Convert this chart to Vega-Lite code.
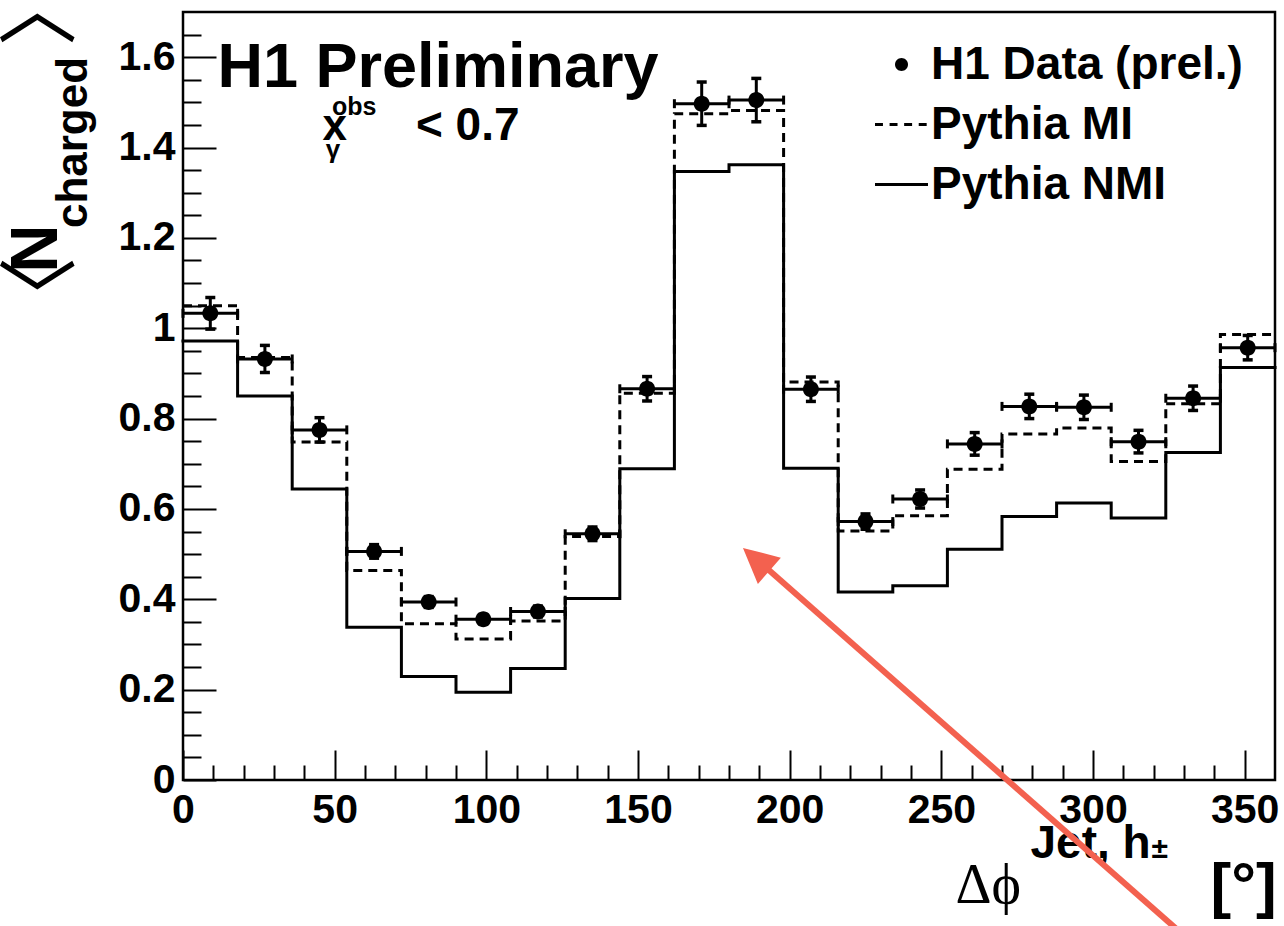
{
  "$schema": "https://vega.github.io/schema/vega-lite/v6.json",
  "width": 1092,
  "height": 768,
  "autosize": {"type": "none"},
  "padding": {"left": 183, "top": 12, "right": 9, "bottom": 146},
  "background": "white",
  "config": {
    "view": {"stroke": "black", "strokeWidth": 2.5},
    "font": "Liberation Sans",
    "axis": {
      "domain": false, "grid": false,
      "labelFont": "Liberation Sans", "labelFontWeight": "bold", "labelFontSize": 41, "labelColor": "black",
      "tickColor": "black", "tickWidth": 2, "labelFlush": false, "labelOverlap": false,
      "titleColor": "black", "titleFont": "Liberation Sans", "titleFontWeight": "bold"
    }
  },
  "data": {"values": [
    {"lo": 0, "hi": 18, "mid": 9, "data": 1.033, "ylo": 0.998, "yhi": 1.068, "mi": 1.050, "nmi": 0.972},
    {"lo": 18, "hi": 36, "mid": 27, "data": 0.932, "ylo": 0.902, "yhi": 0.962, "mi": 0.935, "nmi": 0.850},
    {"lo": 36, "hi": 54, "mid": 45, "data": 0.775, "ylo": 0.748, "yhi": 0.802, "mi": 0.748, "nmi": 0.644},
    {"lo": 54, "hi": 72, "mid": 63, "data": 0.506, "ylo": 0.491, "yhi": 0.521, "mi": 0.464, "nmi": 0.338},
    {"lo": 72, "hi": 90, "mid": 81, "data": 0.394, "ylo": 0.382, "yhi": 0.406, "mi": 0.346, "nmi": 0.229},
    {"lo": 90, "hi": 108, "mid": 99, "data": 0.356, "ylo": 0.346, "yhi": 0.366, "mi": 0.312, "nmi": 0.194},
    {"lo": 108, "hi": 126, "mid": 117, "data": 0.373, "ylo": 0.361, "yhi": 0.385, "mi": 0.352, "nmi": 0.247},
    {"lo": 126, "hi": 144, "mid": 135, "data": 0.545, "ylo": 0.530, "yhi": 0.560, "mi": 0.539, "nmi": 0.402},
    {"lo": 144, "hi": 162, "mid": 153, "data": 0.866, "ylo": 0.839, "yhi": 0.893, "mi": 0.856, "nmi": 0.689},
    {"lo": 162, "hi": 180, "mid": 171, "data": 1.497, "ylo": 1.449, "yhi": 1.545, "mi": 1.475, "nmi": 1.347},
    {"lo": 180, "hi": 198, "mid": 189, "data": 1.505, "ylo": 1.457, "yhi": 1.553, "mi": 1.482, "nmi": 1.362},
    {"lo": 198, "hi": 216, "mid": 207, "data": 0.865, "ylo": 0.838, "yhi": 0.892, "mi": 0.881, "nmi": 0.690},
    {"lo": 216, "hi": 234, "mid": 225, "data": 0.572, "ylo": 0.555, "yhi": 0.589, "mi": 0.551, "nmi": 0.416},
    {"lo": 234, "hi": 252, "mid": 243, "data": 0.622, "ylo": 0.602, "yhi": 0.642, "mi": 0.585, "nmi": 0.430},
    {"lo": 252, "hi": 270, "mid": 261, "data": 0.744, "ylo": 0.719, "yhi": 0.769, "mi": 0.688, "nmi": 0.511},
    {"lo": 270, "hi": 288, "mid": 279, "data": 0.827, "ylo": 0.800, "yhi": 0.854, "mi": 0.766, "nmi": 0.583},
    {"lo": 288, "hi": 306, "mid": 297, "data": 0.825, "ylo": 0.798, "yhi": 0.852, "mi": 0.779, "nmi": 0.613},
    {"lo": 306, "hi": 324, "mid": 315, "data": 0.749, "ylo": 0.724, "yhi": 0.774, "mi": 0.705, "nmi": 0.580},
    {"lo": 324, "hi": 342, "mid": 333, "data": 0.845, "ylo": 0.818, "yhi": 0.872, "mi": 0.833, "nmi": 0.725},
    {"lo": 342, "hi": 360, "mid": 351, "data": 0.957, "ylo": 0.930, "yhi": 0.984, "mi": 0.986, "nmi": 0.913}
  ]},
  "resolve": {"axis": {"x": "independent", "y": "independent"}},
  "layer": [
    {
      "transform": [{"fold": ["lo", "hi"], "as": ["edge", "xe"]}],
      "mark": {"type": "line", "color": "black", "strokeWidth": 3, "strokeJoin": "miter", "strokeCap": "square"},
      "encoding": {
        "x": {"field": "xe", "type": "quantitative", "scale": {"domain": [0, 360], "nice": false, "zero": false},
          "axis": {"orient": "bottom", "values": [0, 50, 100, 150, 200, 250, 300, 350], "format": "d", "ticks": false, "labelPadding": 10,
            "title": "Δϕ", "titleFont": "Liberation Serif", "titleFontWeight": "normal", "titleFontSize": 56,
            "titleX": 772, "titleY": 122, "titleAlign": "left", "titleBaseline": "alphabetic", "titleAngle": 0}},
        "y": {"field": "nmi", "type": "quantitative", "scale": {"domain": [0, 1.7], "nice": false},
          "axis": {"orient": "left", "values": [0, 0.2, 0.4, 0.6, 0.8, 1, 1.2, 1.4, 1.6], "format": "~g", "ticks": false, "labelPadding": 8,
            "title": "N", "titleFontSize": 67, "titleX": -147, "titleY": 236, "titleAlign": "center", "titleBaseline": "middle", "titleAngle": 270}},
        "order": [{"field": "xe", "type": "quantitative"}, {"field": "edge", "type": "nominal"}]
      }
    },
    {
      "transform": [{"fold": ["lo", "hi"], "as": ["edge", "xe"]}],
      "mark": {"type": "line", "color": "black", "strokeWidth": 3, "strokeJoin": "miter", "strokeCap": "butt", "strokeDash": [9, 6]},
      "encoding": {
        "x": {"field": "xe", "type": "quantitative", "scale": {"domain": [0, 360], "nice": false, "zero": false},
          "axis": {"orient": "bottom", "values": [0, 50, 100, 150, 200, 250, 300, 350], "labels": false, "tickSize": -30,
            "title": "Jet, h", "titleFontSize": 46, "titleX": 847, "titleY": 77, "titleAlign": "left", "titleBaseline": "alphabetic", "titleAngle": 0}},
        "y": {"field": "mi", "type": "quantitative", "scale": {"domain": [0, 1.7], "nice": false},
          "axis": {"orient": "left", "values": [0, 0.2, 0.4, 0.6, 0.8, 1, 1.2, 1.4, 1.6], "labels": false, "tickSize": -33,
            "title": "charged", "titleFontSize": 44, "titleX": -110, "titleY": 130, "titleAlign": "center", "titleBaseline": "middle", "titleAngle": 270}},
        "order": [{"field": "xe", "type": "quantitative"}, {"field": "edge", "type": "nominal"}]
      }
    },
    {
      "mark": {"type": "rule", "color": "black", "strokeWidth": 3},
      "encoding": {
        "x": {"field": "lo", "type": "quantitative", "scale": {"domain": [0, 360], "nice": false, "zero": false},
          "axis": {"orient": "bottom", "values": [10, 20, 30, 40, 60, 70, 80, 90, 110, 120, 130, 140, 160, 170, 180, 190, 210, 220, 230, 240, 260, 270, 280, 290, 310, 320, 330, 340], "labels": false, "tickSize": -15,
            "title": "[°]", "titleFontSize": 62, "titleX": 1027, "titleY": 125, "titleAlign": "left", "titleBaseline": "alphabetic", "titleAngle": 0}},
        "x2": {"field": "hi"},
        "y": {"field": "data", "type": "quantitative", "scale": {"domain": [0, 1.7], "nice": false},
          "axis": {"orient": "left", "values": [0.05, 0.1, 0.15, 0.25, 0.3, 0.35, 0.45, 0.5, 0.55, 0.65, 0.7, 0.75, 0.85, 0.9, 0.95, 1.05, 1.1, 1.15, 1.25, 1.3, 1.35, 1.45, 1.5, 1.55, 1.65], "labels": false, "tickSize": -18,
            "title": "〈", "titleFont": "Noto Sans CJK SC", "titleFontWeight": "normal", "titleFontSize": 80, "titleX": -141, "titleY": 284, "titleAlign": "center", "titleBaseline": "middle", "titleAngle": 270}}
      }
    },
    {
      "mark": {"type": "rule", "color": "black", "strokeWidth": 3},
      "encoding": {
        "x": {"field": "mid", "type": "quantitative", "scale": {"domain": [0, 360], "nice": false, "zero": false},
          "axis": {"orient": "bottom", "values": [0], "labels": false, "ticks": false,
            "title": "±", "titleFontSize": 30, "titleX": 968, "titleY": 77, "titleAlign": "left", "titleBaseline": "alphabetic", "titleAngle": 0}},
        "y": {"field": "ylo", "type": "quantitative", "scale": {"domain": [0, 1.7], "nice": false},
          "axis": {"orient": "left", "values": [0], "labels": false, "ticks": false,
            "title": "〉", "titleFont": "Noto Sans CJK SC", "titleFontWeight": "normal", "titleFontSize": 80, "titleX": -141, "titleY": -6, "titleAlign": "center", "titleBaseline": "middle", "titleAngle": 270}},
        "y2": {"field": "yhi"}
      }
    },
    {
      "transform": [{"fold": ["ylo", "yhi"], "as": ["bnd", "yb"]}],
      "mark": {"type": "tick", "color": "black", "opacity": 1, "orient": "horizontal", "size": 10, "thickness": 3.5},
      "encoding": {
        "x": {"field": "mid", "type": "quantitative", "scale": {"domain": [0, 360], "nice": false, "zero": false}, "axis": null},
        "y": {"field": "yb", "type": "quantitative", "scale": {"domain": [0, 1.7], "nice": false}, "axis": null}
      }
    },
    {
      "transform": [{"fold": ["lo", "hi"], "as": ["edge", "xe"]}],
      "mark": {"type": "tick", "color": "black", "opacity": 1, "orient": "vertical", "size": 9, "thickness": 3},
      "encoding": {
        "x": {"field": "xe", "type": "quantitative", "scale": {"domain": [0, 360], "nice": false, "zero": false}, "axis": null},
        "y": {"field": "data", "type": "quantitative", "scale": {"domain": [0, 1.7], "nice": false}, "axis": null}
      }
    },
    {
      "mark": {"type": "point", "filled": true, "color": "black", "size": 4265, "opacity": 1},
      "encoding": {
        "x": {"field": "mid", "type": "quantitative", "scale": {"domain": [0, 360], "nice": false, "zero": false}, "axis": null},
        "y": {"field": "data", "type": "quantitative", "scale": {"domain": [0, 1.7], "nice": false}, "axis": null},
        "shape": {"datum": "H1 Data (prel.)", "type": "nominal",
          "scale": {"domain": ["H1 Data (prel.)", "Pythia MI", "Pythia NMI"],
            "range": [
              "M-0.245,0A0.245,0.245,0,1,0,0.245,0A0.245,0.245,0,1,0,-0.245,0Z",
              "M-1,-0.06H-0.7V0.06H-1ZM-0.45,-0.06H-0.15V0.06H-0.45ZM0.1,-0.06H0.4V0.06H0.1ZM0.65,-0.06H0.95V0.06H0.65Z",
              "M-1,-0.06H1V0.06H-1Z"]},
          "legend": {"orient": "none", "legendX": 692, "legendY": 26, "title": null, "padding": 0,
            "symbolSize": 2809, "symbolStrokeWidth": 0, "symbolFillColor": "black", "symbolOpacity": 1,
            "labelFont": "Liberation Sans", "labelFontWeight": "bold", "labelFontSize": 46, "labelColor": "black",
            "labelLimit": 600, "labelOffset": 3, "rowPadding": 10}}
      }
    },
    {
      "data": {"values": [{"t": "H1 Preliminary"}]},
      "mark": {"type": "text", "align": "left", "baseline": "alphabetic", "font": "Liberation Sans", "fontWeight": "bold", "fontSize": 63, "color": "black"},
      "encoding": {
        "x": {"datum": 11.34, "type": "quantitative", "scale": {"domain": [0, 360], "nice": false, "zero": false}, "axis": null},
        "y": {"datum": 1.535, "type": "quantitative", "scale": {"domain": [0, 1.7], "nice": false}, "axis": null},
        "text": {"field": "t"}
      }
    },
    {
      "data": {"values": [{"t": "x"}]},
      "mark": {"type": "text", "align": "left", "baseline": "alphabetic", "font": "Liberation Sans", "fontWeight": "bold", "fontSize": 44, "color": "black"},
      "encoding": {
        "x": {"datum": 46.0, "type": "quantitative", "scale": {"domain": [0, 360], "nice": false, "zero": false}, "axis": null},
        "y": {"datum": 1.4175, "type": "quantitative", "scale": {"domain": [0, 1.7], "nice": false}, "axis": null},
        "text": {"field": "t"}
      }
    },
    {
      "data": {"values": [{"t": "γ"}]},
      "mark": {"type": "text", "align": "left", "baseline": "alphabetic", "font": "Liberation Sans", "fontWeight": "bold", "fontSize": 26, "color": "black"},
      "encoding": {
        "x": {"datum": 47.1, "type": "quantitative", "scale": {"domain": [0, 360], "nice": false, "zero": false}, "axis": null},
        "y": {"datum": 1.3776, "type": "quantitative", "scale": {"domain": [0, 1.7], "nice": false}, "axis": null},
        "text": {"field": "t"}
      }
    },
    {
      "data": {"values": [{"t": "obs"}]},
      "mark": {"type": "text", "align": "left", "baseline": "alphabetic", "font": "Liberation Sans", "fontWeight": "bold", "fontSize": 25, "color": "black"},
      "encoding": {
        "x": {"datum": 49.1, "type": "quantitative", "scale": {"domain": [0, 360], "nice": false, "zero": false}, "axis": null},
        "y": {"datum": 1.4729, "type": "quantitative", "scale": {"domain": [0, 1.7], "nice": false}, "axis": null},
        "text": {"field": "t"}
      }
    },
    {
      "data": {"values": [{"t": "< 0.7"}]},
      "mark": {"type": "text", "align": "left", "baseline": "alphabetic", "font": "Liberation Sans", "fontWeight": "bold", "fontSize": 46, "color": "black"},
      "encoding": {
        "x": {"datum": 76.8, "type": "quantitative", "scale": {"domain": [0, 360], "nice": false, "zero": false}, "axis": null},
        "y": {"datum": 1.4175, "type": "quantitative", "scale": {"domain": [0, 1.7], "nice": false}, "axis": null},
        "text": {"field": "t"}
      }
    },
    {
      "data": {"values": [{"note": "arrow"}]},
      "mark": {"type": "rule", "color": "#f3614f", "strokeWidth": 6, "strokeCap": "butt"},
      "encoding": {
        "x": {"datum": 191.9, "type": "quantitative", "scale": {"domain": [0, 360], "nice": false, "zero": false}, "axis": null},
        "y": {"datum": 0.4718, "type": "quantitative", "scale": {"domain": [0, 1.7], "nice": false}, "axis": null},
        "x2": {"datum": 328.7},
        "y2": {"datum": -0.3367}
      }
    },
    {
      "data": {"values": [{"note": "arrow head"}]},
      "mark": {"type": "point", "filled": true, "color": "#f3614f", "opacity": 1, "shape": "M0,0L-0.5,1L0.5,1Z", "size": 4900, "angle": 311},
      "encoding": {
        "x": {"datum": 184.6, "type": "quantitative", "scale": {"domain": [0, 360], "nice": false, "zero": false}, "axis": null},
        "y": {"datum": 0.5138, "type": "quantitative", "scale": {"domain": [0, 1.7], "nice": false}, "axis": null}
      }
    }
  ]
}
